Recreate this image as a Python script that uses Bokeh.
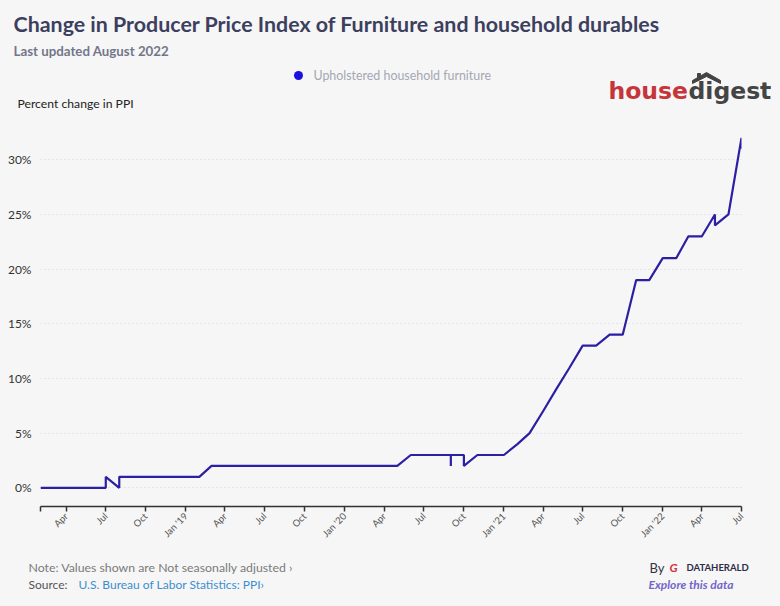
import math
import pandas as pd
from bokeh.plotting import figure
from bokeh.layouts import column, row
from bokeh.models import Range1d, FixedTicker, PrintfTickFormatter, Label
from bokeh.embed import file_html
from bokeh.resources import INLINE

# ---------------- data ----------------
dates = ["2018-02-01", "2018-03-01", "2018-04-01", "2018-05-01", "2018-06-01",
         "2018-07-01", "2018-07-01", "2018-08-01", "2018-08-01", "2018-09-01",
         "2018-10-01", "2018-11-01", "2018-12-01", "2019-01-01", "2019-02-01",
         "2019-03-01", "2019-04-01", "2019-05-01", "2019-06-01", "2019-07-01",
         "2019-08-01", "2019-09-01", "2019-10-01", "2019-11-01", "2019-12-01",
         "2020-01-01", "2020-02-01", "2020-03-01", "2020-04-01", "2020-05-01",
         "2020-06-01", "2020-07-01", "2020-08-01", "2020-09-01", "2020-09-01",
         "2020-09-01", "2020-10-01", "2020-10-01", "2020-11-01", "2020-12-01",
         "2021-01-01", "2021-02-01", "2021-03-01", "2021-04-01", "2021-05-01",
         "2021-06-01", "2021-07-01", "2021-08-01", "2021-09-01", "2021-10-01",
         "2021-11-01", "2021-12-01", "2022-01-01", "2022-02-01", "2022-03-01",
         "2022-04-01", "2022-05-01", "2022-05-01", "2022-06-01", "2022-07-01",
         "2022-07-01"]
values = [0, 0, 0, 0, 0,
          0, 1, 0, 1, 1,
          1, 1, 1, 1, 1,
          2, 2, 2, 2, 2,
          2, 2, 2, 2, 2,
          2, 2, 2, 2, 2,
          3, 3, 3, 3, 2,
          3, 3, 2, 3, 3,
          3, 4, 5, 7, 9,
          11, 13, 13, 14, 14,
          19, 19, 21, 21, 23,
          23, 25, 24, 25, 32,
          31]
series_name = "Upholstered household furniture"

tick_dates = ["2018-02-01", "2018-04-01", "2018-07-01", "2018-10-01", "2019-01-01",
              "2019-04-01", "2019-07-01", "2019-10-01", "2020-01-01", "2020-04-01",
              "2020-07-01", "2020-10-01", "2021-01-01", "2021-04-01", "2021-07-01",
              "2021-10-01", "2022-01-01", "2022-04-01", "2022-07-01"]
tick_labels = ["", "Apr", "Jul", "Oct", "Jan '19",
               "Apr", "Jul", "Oct", "Jan '20", "Apr",
               "Jul", "Oct", "Jan '21", "Apr", "Jul",
               "Oct", "Jan '22", "Apr", "Jul"]
y_ticks = [0, 5, 10, 15, 20, 25, 30]

BG = "#f6f6f6"
FONT = "Lato"
W = 780
H_HEAD, H_MAIN, H_FOOT = 115, 430, 61


def blank(height, top):
    f = figure(width=W, height=height, output_backend="svg",
               toolbar_location=None, x_axis_location=None, y_axis_location=None,
               x_range=Range1d(0, W), y_range=Range1d(top + height, top),
               min_border=0, min_border_left=0, min_border_right=0,
               min_border_top=0, min_border_bottom=0)
    f.background_fill_color = BG
    f.border_fill_color = BG
    f.outline_line_color = None
    f.grid.grid_line_color = None
    return f


def lab(f, text, x, y, size, color, style="normal", align="left",
        baseline="middle", font=FONT):
    f.add_layout(Label(x=x, y=y, text=text, text_font=font,
                       text_font_size=size, text_color=color,
                       text_font_style=style, text_align=align,
                       text_baseline=baseline))


# ---------------- header ----------------
head = blank(H_HEAD, 0)
lab(head, "Change in Producer Price Index of Furniture and household durables",
    13, 23, "21.4px", "#3c3f5e", "bold")
lab(head, "Last updated August 2022", 13, 50.5, "13.3px", "#73768a", "bold")
head.scatter(x=[298], y=[75], size=9, fill_color="#1a10e0", line_color=None)
lab(head, series_name, 313, 75, "12.4px", "#a4a7b4")
lab(head, "Percent change in PPI", 17, 103, "12.2px", "#222222")
# housedigest logo
lab(head, "house", 608, 90, "23.5px", "#c5353a", "bold", baseline="alphabetic",
    font="DejaVu Sans")
lab(head, "digest", 688, 90, "23.5px", "#444444", "bold", baseline="alphabetic",
    font="DejaVu Sans")
head.patch(x=[692, 706, 720, 720, 706, 692], y=[80, 72, 80, 83, 76, 83],
           fill_color="#444444", line_color="#444444")
head.patch(x=[697, 700, 700, 697], y=[73, 73, 78, 78],
           fill_color="#444444", line_color="#444444")

# ---------------- main chart ----------------
x = pd.to_datetime(dates)
x0 = pd.Timestamp("2018-02-01")
x1 = pd.Timestamp("2022-07-01")

p = figure(width=W, height=H_MAIN, x_axis_type="datetime",
           output_backend="svg", toolbar_location=None,
           x_range=Range1d(x0, x1), y_range=Range1d(-1.71, 33.5),
           min_border_left=40, min_border_right=39,
           min_border_top=6, min_border_bottom=39)
p.background_fill_color = BG
p.border_fill_color = BG
p.outline_line_color = None

p.line(x=x, y=values, line_color="#2b1fa3", line_width=2.2)

tick_ms = [pd.Timestamp(d).value / 1e6 for d in tick_dates]
xa = p.xaxis[0]
xa.ticker = FixedTicker(ticks=tick_ms)
xa.major_label_overrides = {t: l for t, l in zip(tick_ms, tick_labels)}
xa.major_label_orientation = math.pi / 4
xa.major_label_text_font = FONT
xa.major_label_text_font_size = "9.5px"
xa.major_label_text_color = "#555555"
xa.axis_line_color = "#333333"
xa.axis_line_width = 1.5
xa.major_tick_line_color = "#333333"
xa.major_tick_line_width = 1.5
xa.major_tick_out = 5
xa.major_tick_in = 0
xa.minor_tick_line_color = None
xa.major_label_standoff = 3

ya = p.yaxis[0]
ya.ticker = FixedTicker(ticks=y_ticks)
ya.formatter = PrintfTickFormatter(format="%d%%")
ya.axis_line_color = None
ya.major_tick_line_color = None
ya.minor_tick_line_color = None
ya.major_label_text_font = FONT
ya.major_label_text_font_size = "12px"
ya.major_label_text_color = "#333333"
ya.major_label_standoff = 3

p.xgrid.grid_line_color = None
p.ygrid.ticker = FixedTicker(ticks=y_ticks)
p.ygrid.grid_line_color = "#d3d3dc"
p.ygrid.grid_line_dash = "1 3"
p.ygrid.grid_line_width = 1

# ---------------- footer ----------------
top_f = H_HEAD + H_MAIN
foot = blank(H_FOOT, top_f)
lab(foot, "Note: Values shown are Not seasonally adjusted \u203A", 28, 567, "12.3px", "#7a7a7a")
lab(foot, "Source:", 28, 584, "12px", "#555555")
lab(foot, "U.S. Bureau of Labor Statistics: PPI\u203A", 78, 584, "12px", "#3b8fcf")
lab(foot, "By", 649, 567, "13px", "#333344")
lab(foot, "G", 669, 567, "12px", "#d0343c", "bold italic")
lab(foot, "DATAHERALD", 686, 567, "9.5px", "#2e2e48", "bold")
lab(foot, "Explore this data", 648, 584, "12px", "#7466c8", "bold italic")

layout = column(row(head), row(p), row(foot), spacing=0)
html = file_html(layout, INLINE)
html = html.replace("<head>", "<head><style>body{background:#f6f6f6;}</style>", 1)
open("out.html", "w").write(html)
